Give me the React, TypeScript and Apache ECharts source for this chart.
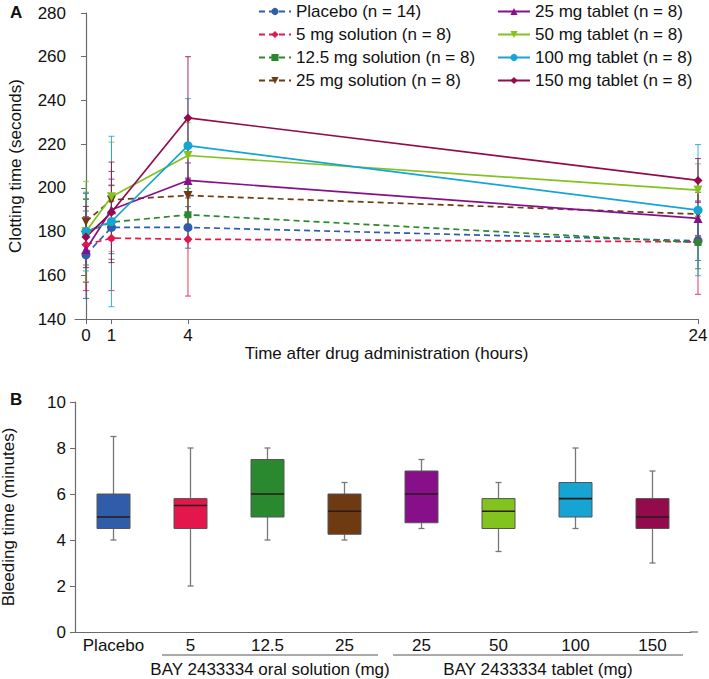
import React, { useEffect, useRef } from "react";
import * as echarts from "echarts";

// ---------- Panel A data ----------
const times = [0, 1, 4, 24];
const xTickValues = [0, 1, 4, 24];
const groupNames = [
  "Placebo (n = 14)",
  "5 mg solution (n = 8)",
  "12.5 mg solution (n = 8)",
  "25 mg solution (n = 8)",
  "25 mg tablet (n = 8)",
  "50 mg tablet (n = 8)",
  "100 mg tablet (n = 8)",
  "150 mg tablet (n = 8)",
];
const placeboMean = [169.4, 181.9, 181.9, 175.8];
const sol5Mean = [174, 177, 176.5, 175.3];
const sol12Mean = [179.7, 184.3, 187.7, 175];
const sol25Mean = [184.5, 194.5, 196.5, 188];
const tab25Mean = [171.8, 190, 203.4, 186];
const tab50Mean = [180, 195.9, 214.8, 199];
const tab100Mean = [180, 184.6, 219.3, 189.8];
const tab150Mean = [177.5, 188.8, 232, 203.4];

const placeboSD = [20, 12, 9.5, 9];
const sol5SD = [21, 24, 26, 24];
const sol12SD = [15, 17, 12, 12];
const sol25SD = [13, 13, 8, 10];
const tab25SD = [15, 14, 8, 8];
const tab50SD = [23, 25, 15, 12];
const tab100SD = [18, 39, 21.5, 30];
const tab150SD = [14, 23, 28, 10];

const means = [placeboMean, sol5Mean, sol12Mean, sol25Mean, tab25Mean, tab50Mean, tab100Mean, tab150Mean];
const sds = [placeboSD, sol5SD, sol12SD, sol25SD, tab25SD, tab50SD, tab100SD, tab150SD];

// ---------- Panel B data ----------
const boxCategories = ["Placebo", "5", "12.5", "25", "25", "50", "100", "150"];
const boxMin = [4, 2, 4, 4, 4.5, 3.5, 4.5, 3];
const boxQ1 = [4.5, 4.5, 5, 4.25, 4.75, 4.5, 5, 4.5];
const boxMedian = [5, 5.5, 6, 5.25, 6, 5.25, 5.8, 5];
const boxQ3 = [6, 5.8, 7.5, 6, 7, 5.8, 6.5, 5.8];
const boxMax = [8.5, 8, 8, 6.5, 7.5, 6.5, 8, 7];
const groupLabels = ["BAY 2433334 oral solution (mg)", "BAY 2433334 tablet (mg)"];

// ---------- styles ----------
const colors = ["#2F5DAA", "#E3174B", "#2A882E", "#6E3A12", "#87108A", "#82C31E", "#16A5D3", "#930B4C"];
const symbols = ["circle", "diamond", "rect", "triangle", "triangle", "triangle", "circle", "diamond"];
const rotates = [0, 0, 0, 180, 0, 180, 0, 0];
const dashed = [true, true, true, true, false, false, false, false];
const FONT = "Liberation Sans, Arial, Helvetica, sans-serif";
const FS = 17;
const AXIS = "#6a6a6a";

export default function App() {
  const ref = useRef<HTMLDivElement>(null);
  useEffect(() => {
    if (!ref.current) return;
    const chart = echarts.init(ref.current, undefined, { renderer: "svg" });

    const lineSeries: any[] = groupNames.map((name, i) => ({
      name,
      type: "line",
      xAxisIndex: 0,
      yAxisIndex: 0,
      data: times.map((t, k) => [t, means[i][k]]),
      symbol: symbols[i],
      symbolRotate: rotates[i],
      symbolSize: symbols[i] === "rect" ? 7 : 9,
      itemStyle: { color: colors[i] },
      lineStyle: { color: colors[i], width: 1.7, type: dashed[i] ? [6, 4] : "solid" },
      z: 5,
    }));

    const errSeries: any[] = groupNames.map((name, i) => ({
      type: "custom",
      xAxisIndex: 0,
      yAxisIndex: 0,
      silent: true,
      z: 2,
      data: times.map((t, k) => [t, means[i][k] - sds[i][k], means[i][k] + sds[i][k]]),
      encode: { x: 0, y: [1, 2] },
      renderItem: (params: any, api: any) => {
        const lo = api.coord([api.value(0), api.value(1)]);
        const hi = api.coord([api.value(0), api.value(2)]);
        const st = { stroke: colors[i], lineWidth: 1, opacity: 0.85 };
        return {
          type: "group",
          children: [
            { type: "line", shape: { x1: lo[0], y1: lo[1], x2: hi[0], y2: hi[1] }, style: st },
            { type: "line", shape: { x1: lo[0] - 3, y1: lo[1], x2: lo[0] + 3, y2: lo[1] }, style: st },
            { type: "line", shape: { x1: hi[0] - 3, y1: hi[1], x2: hi[0] + 3, y2: hi[1] }, style: st },
          ],
        };
      },
    }));

    const boxData = boxCategories.map((_, i) => [i, boxMin[i], boxQ1[i], boxMedian[i], boxQ3[i], boxMax[i]]);
    const boxSeries = {
      type: "custom",
      xAxisIndex: 1,
      yAxisIndex: 1,
      silent: true,
      data: boxData,
      encode: { x: 0, y: [1, 2, 3, 4, 5] },
      renderItem: (params: any, api: any) => {
        const idx = api.value(0);
        const p = (v: number) => api.coord([idx, v]);
        const x = p(0)[0];
        const yMin = p(api.value(1))[1];
        const yQ1 = p(api.value(2))[1];
        const yMed = p(api.value(3))[1];
        const yQ3 = p(api.value(4))[1];
        const yMax = p(api.value(5))[1];
        const w = 33;
        const wh = { stroke: "#777", lineWidth: 1.3 };
        return {
          type: "group",
          children: [
            { type: "line", shape: { x1: x, y1: yMin, x2: x, y2: yQ1 }, style: wh },
            { type: "line", shape: { x1: x, y1: yQ3, x2: x, y2: yMax }, style: wh },
            { type: "line", shape: { x1: x - 3, y1: yMin, x2: x + 3, y2: yMin }, style: wh },
            { type: "line", shape: { x1: x - 3, y1: yMax, x2: x + 3, y2: yMax }, style: wh },
            {
              type: "rect",
              shape: { x: x - w / 2, y: yQ3, width: w, height: yQ1 - yQ3 },
              style: { fill: colors[params.dataIndex], stroke: "#555", lineWidth: 1 },
            },
            { type: "line", shape: { x1: x - w / 2, y1: yMed, x2: x + w / 2, y2: yMed }, style: { stroke: "#2a1a1a", lineWidth: 1.6 } },
          ],
        };
      },
    };

    const legendCommon = {
      orient: "vertical",
      itemWidth: 32,
      itemHeight: 9,
      itemGap: 6,
      padding: 0,
      selectedMode: false,
      textStyle: { fontSize: FS, lineHeight: 17, color: "#111", fontFamily: FONT },
    };

    const option: any = {
      animation: false,
      backgroundColor: "#ffffff",
      textStyle: { fontFamily: FONT },
      legend: [
        { ...legendCommon, data: groupNames.slice(0, 4), left: 258, top: 3 },
        { ...legendCommon, data: groupNames.slice(4), left: 497, top: 3 },
      ],
      grid: [
        { left: 75, top: 13, width: 623, height: 306, outerBoundsMode: "none", containLabel: false },
        { left: 75, top: 402, width: 616, height: 230, outerBoundsMode: "none", containLabel: false },
      ],
      xAxis: [
        {
          gridIndex: 0,
          type: "value",
          min: -0.43,
          max: 24,
          name: "Time after drug administration (hours)",
          nameLocation: "middle",
          nameGap: 24,
          nameTextStyle: { fontSize: FS, color: "#111", fontFamily: FONT },
          axisLine: { lineStyle: { color: AXIS, width: 1.2 } },
          axisTick: { customValues: xTickValues, length: 5, lineStyle: { color: AXIS } },
          axisLabel: { customValues: xTickValues, fontSize: FS, color: "#111", margin: 8, fontFamily: FONT },
          splitLine: { show: false },
        },
        {
          gridIndex: 1,
          type: "category",
          data: boxCategories,
          axisLine: { lineStyle: { color: AXIS, width: 1.2 } },
          axisTick: { show: false },
          axisLabel: { fontSize: FS, color: "#111", margin: 5, fontFamily: FONT, interval: 0 },
          splitLine: { show: false },
        },
      ],
      yAxis: [
        {
          gridIndex: 0,
          type: "value",
          min: 140,
          max: 280,
          interval: 20,
          name: "Clotting time (seconds)",
          nameLocation: "middle",
          nameGap: 51,
          nameTextStyle: { fontSize: FS, color: "#111", fontFamily: FONT },
          axisLine: { show: true, lineStyle: { color: AXIS, width: 1.2 } },
          axisTick: { show: true, length: 5, lineStyle: { color: AXIS } },
          axisLabel: { fontSize: FS, color: "#111", margin: 9, fontFamily: FONT },
          splitLine: { show: false },
        },
        {
          gridIndex: 1,
          type: "value",
          min: 0,
          max: 10,
          interval: 2,
          name: "Bleeding time (minutes)",
          nameLocation: "middle",
          nameGap: 58,
          nameTextStyle: { fontSize: FS, color: "#111", fontFamily: FONT },
          axisLine: { show: true, lineStyle: { color: AXIS, width: 1.2 } },
          axisTick: { show: true, length: 5, lineStyle: { color: AXIS } },
          axisLabel: { fontSize: FS, color: "#111", margin: 9, fontFamily: FONT },
          splitLine: { show: false },
        },
      ],
      graphic: [
        { type: "text", left: 10, top: 4, style: { text: "A", fontSize: 17, fontWeight: "bold", fill: "#111", fontFamily: FONT } },
        { type: "text", left: 10, top: 391, style: { text: "B", fontSize: 17, fontWeight: "bold", fill: "#111", fontFamily: FONT } },
        { type: "line", shape: { x1: 690, y1: 632, x2: 698, y2: 632 }, style: { stroke: AXIS, lineWidth: 1.2 } },
        { type: "line", shape: { x1: 162, y1: 655, x2: 378, y2: 655 }, style: { stroke: "#555", lineWidth: 1 } },
        { type: "line", shape: { x1: 393, y1: 655, x2: 683, y2: 655 }, style: { stroke: "#555", lineWidth: 1 } },
        { type: "text", x: 270, y: 661, style: { text: groupLabels[0], fontSize: FS, fill: "#111", align: "center", fontFamily: FONT } },
        { type: "text", x: 538, y: 661, style: { text: groupLabels[1], fontSize: FS, fill: "#111", align: "center", fontFamily: FONT } },
      ],
      series: [...errSeries, ...lineSeries, boxSeries],
    };
    chart.setOption(option);
    return () => chart.dispose();
  }, []);

  return (
    <div
      ref={ref}
      style={{ position: "fixed", left: 0, top: 0, width: 709, height: 679, background: "#fff" }}
    />
  );
}
